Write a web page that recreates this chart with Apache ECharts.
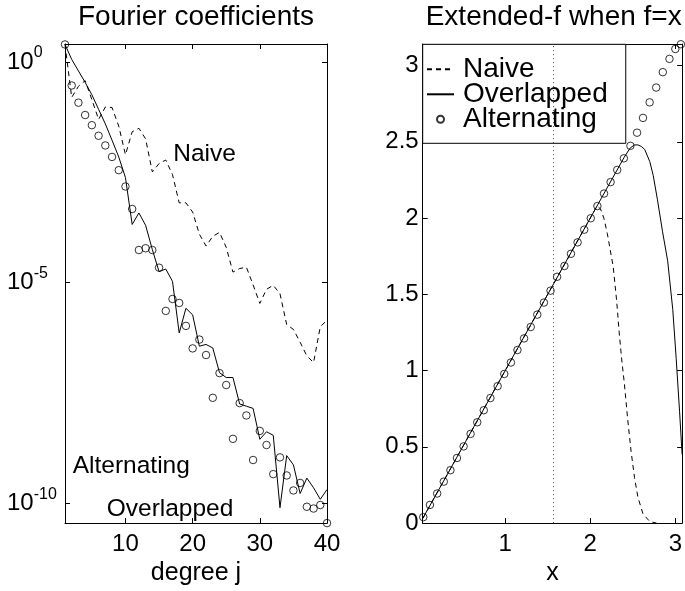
<!DOCTYPE html>
<html><head><meta charset="utf-8">
<script src="https://cdn.jsdelivr.net/npm/echarts@6/dist/echarts.min.js"></script>
<style>html,body{margin:0;padding:0;background:#fff}#c{width:685px;height:591px}</style>
</head><body><div id="c"></div>
<script>
// ---------- Left panel: Fourier coefficients (log10 of |coefficient|)
const degrees = [1,2,3,4,5,6,7,8,9,10,11,12,13,14,15,16,17,18,19,20,21,22,23,24,25,26,27,28,29,30,31,32,33,34,35,36,37,38,39,40];
const naiveExp = [0.40,-0.80,-0.55,-0.42,-0.85,-1.30,-1.02,-1.03,-1.45,-2.10,-1.58,-1.50,-1.74,-2.49,-2.30,-2.22,-2.55,-3.19,-3.19,-3.40,-3.90,-4.17,-3.95,-3.86,-4.20,-4.76,-4.68,-4.65,-5.05,-5.47,-5.15,-5.06,-5.25,-5.95,-6.06,-6.35,-6.66,-6.81,-6.00,-5.85];
const overlappedExp = [0.40,0.06,-0.20,-0.46,-0.74,-1.07,-1.40,-1.77,-2.15,-2.62,-3.68,-3.42,-3.70,-4.25,-4.75,-4.69,-4.97,-6.14,-5.58,-5.73,-6.44,-6.40,-6.48,-7.04,-7.15,-7.15,-7.75,-7.80,-7.85,-8.55,-8.38,-8.46,-10.10,-8.92,-9.13,-9.78,-9.43,-9.65,-9.91,-9.69];
const alternatingExp = [0.40,-0.53,-0.92,-1.20,-1.43,-1.67,-1.89,-2.15,-2.45,-2.82,-3.33,-4.26,-4.22,-4.26,-4.66,-5.64,-5.37,-5.46,-5.98,-6.49,-6.29,-6.64,-7.61,-7.05,-7.32,-8.54,-7.73,-8.01,-9.02,-8.36,-8.68,-9.34,-8.96,-9.37,-9.71,-9.54,-10.08,-10.12,-10.04,-10.45];
const leftXTicks = [10,20,30,40];
const leftYTicks = [1e-10,1e-5,1];

// ---------- Right panel: Extended-f when f=x
const altX = [0.037,0.115,0.200,0.278,0.356,0.433,0.511,0.593,0.671,0.748,0.826,0.911,0.989,1.067,1.144,1.222,1.300,1.377,1.455,1.533,1.610,1.696,1.773,1.851,1.929,2.006,2.084,2.162,2.239,2.317,2.395,2.472,2.550,2.620,2.698,2.775,2.853,2.931,3.000,3.065];
const altY = [0.039,0.119,0.194,0.272,0.347,0.427,0.503,0.585,0.661,0.740,0.820,0.898,0.978,1.053,1.135,1.211,1.286,1.367,1.446,1.524,1.615,1.686,1.766,1.841,1.924,1.999,2.079,2.161,2.236,2.316,2.392,2.474,2.560,2.657,2.759,2.856,2.957,3.044,3.109,3.140];
const overX = [0.03,2.40,2.47,2.52,2.56,2.60,2.64,2.70,2.74,2.79,2.85,2.91,2.97,3.01,3.05,3.08];
const overY = [0.03,2.40,2.46,2.48,2.48,2.47,2.45,2.37,2.28,2.12,1.91,1.72,1.40,1.08,0.73,0.45];
const naiveX = [0.03,2.08,2.12,2.16,2.20,2.27,2.31,2.34,2.37,2.40,2.44,2.48,2.52,2.56,2.62,2.70,2.78];
const naiveY = [0.03,2.08,2.06,2.00,1.90,1.68,1.46,1.25,1.07,0.92,0.68,0.47,0.30,0.17,0.06,0.01,0.00];
const rightXTicks = [1,2,3];
const rightYTicks = [0,0.5,1,1.5,2,2.5,3];
const dottedX = 1.5708;

const FONT = '"Liberation Sans", Arial, Helvetica, sans-serif';
const chart = echarts.init(document.getElementById('c'), null, {renderer:'canvas'});

const logPts = (exps) => exps.map((e,i) => [degrees[i], Math.pow(10, e)]);
const xyPts = (xs, ys) => xs.map((x,i) => [x, ys[i]]);

const black = '#000';
const tickStyle = (vals) => ({show:true, inside:true, length:5, customValues: vals, lineStyle:{color:black, width:1}});
const lineAx = {show:true, onZero:false, lineStyle:{color:black, width:1}};
const LMIN = Math.pow(10,-10.45), LMAX = Math.pow(10,0.41);
const noDot = {color:'rgba(0,0,0,0)', borderColor:'rgba(0,0,0,0)', borderWidth:0};

const option = {
  animation:false,
  backgroundColor:'#fff',
  grid:[
    {left:65, top:44, width:262, height:485},
    {left:422.7, top:44, width:262, height:485}
  ],
  xAxis:[
    {type:'value', gridIndex:0, min:1, max:40, position:'bottom', axisLine:lineAx,
     axisTick:tickStyle(leftXTicks), splitLine:{show:false},
     axisLabel:{show:true, customValues:leftXTicks, margin:9, fontSize:24, fontFamily:FONT, color:black},
     name:'degree j', nameLocation:'middle', nameGap:34, nameTextStyle:{fontSize:25, fontFamily:FONT, color:black}},
    {type:'value', gridIndex:0, min:1, max:40, position:'top', axisLine:lineAx,
     axisTick:tickStyle(leftXTicks), splitLine:{show:false}, axisLabel:{show:false}},
    {type:'value', gridIndex:1, min:0.03, max:3.08, position:'bottom', axisLine:lineAx,
     axisTick:tickStyle(rightXTicks), splitLine:{show:false},
     axisLabel:{show:true, customValues:rightXTicks, margin:9, fontSize:24, fontFamily:FONT, color:black},
     name:'x', nameLocation:'middle', nameGap:34, nameTextStyle:{fontSize:25, fontFamily:FONT, color:black}},
    {type:'value', gridIndex:1, min:0.03, max:3.08, position:'top', axisLine:lineAx,
     axisTick:tickStyle(rightXTicks), splitLine:{show:false}, axisLabel:{show:false}}
  ],
  yAxis:[
    {type:'log', logBase:10, gridIndex:0, min:LMIN, max:LMAX, position:'left', axisLine:lineAx,
     axisTick:tickStyle(leftYTicks), splitLine:{show:false}, minorTick:{show:false},
     axisLabel:{show:true, customValues:leftYTicks, align:'left', margin:58,
       formatter:(v)=>'{b|10}{s|'+Math.round(Math.log10(v))+'}',
       rich:{b:{fontSize:24, fontFamily:FONT, color:black, lineHeight:34},
             s:{fontSize:16, fontFamily:FONT, color:black, lineHeight:16, verticalAlign:'top'}}}},
    {type:'log', logBase:10, gridIndex:0, min:LMIN, max:LMAX, position:'right', axisLine:lineAx,
     axisTick:tickStyle(leftYTicks), splitLine:{show:false}, minorTick:{show:false}, axisLabel:{show:false}},
    {type:'value', gridIndex:1, min:0, max:3.1416, position:'left', axisLine:lineAx,
     axisTick:tickStyle(rightYTicks), splitLine:{show:false},
     axisLabel:{show:true, customValues:rightYTicks, margin:4, fontSize:24, fontFamily:FONT, color:black}},
    {type:'value', gridIndex:1, min:0, max:3.1416, position:'right', axisLine:lineAx,
     axisTick:tickStyle(rightYTicks), splitLine:{show:false}, axisLabel:{show:false}}
  ],
  legend:{
    orient:'vertical', left:422.7, top:44.3,
    data:[{name:'Naive', itemStyle:noDot},{name:'Overlapped', itemStyle:noDot},{name:'Alternating'}],
    itemWidth:27, itemHeight:7, itemGap:-3,
    padding:[11,18,10,3.3],
    backgroundColor:'#fff', borderColor:black, borderWidth:1, borderRadius:0,
    selectedMode:false,
    textStyle:{fontSize:28, fontFamily:FONT, color:black, padding:[0,0,0,4]}
  },
  graphic:[
    {type:'text', x:196, y:17, style:{text:'Fourier coefficients', fontSize:28, fontFamily:FONT, fill:black, align:'center', verticalAlign:'middle'}},
    {type:'text', x:553.7, y:17, style:{text:'Extended-f when f=x', fontSize:28, fontFamily:FONT, fill:black, align:'center', verticalAlign:'middle'}},
    {type:'text', x:173.3, y:154, style:{text:'Naive', fontSize:24.5, fontFamily:FONT, fill:black, align:'left', verticalAlign:'middle'}},
    {type:'text', x:72.7, y:466, style:{text:'Alternating', fontSize:24.5, fontFamily:FONT, fill:black, align:'left', verticalAlign:'middle'}},
    {type:'text', x:106.7, y:509, style:{text:'Overlapped', fontSize:24.5, fontFamily:FONT, fill:black, align:'left', verticalAlign:'middle'}}
  ],
  series:[
    {name:'Naive', type:'line', xAxisIndex:0, yAxisIndex:0, data:logPts(naiveExp), symbol:'none',
     lineStyle:{color:black, width:1, type:[5,4]}, itemStyle:{color:black}},
    {name:'Overlapped', type:'line', xAxisIndex:0, yAxisIndex:0, data:logPts(overlappedExp), symbol:'none',
     lineStyle:{color:black, width:1}, itemStyle:{color:black}},
    {name:'Alternating', type:'scatter', xAxisIndex:0, yAxisIndex:0, data:logPts(alternatingExp), symbol:'circle', symbolSize:7.5,
     itemStyle:{color:'rgba(0,0,0,0)', borderColor:black, borderWidth:1}},
    {name:'Naive', type:'line', xAxisIndex:2, yAxisIndex:2, data:xyPts(naiveX,naiveY), symbol:'none',
     lineStyle:{color:black, width:1, type:[5,4]}, itemStyle:{color:black}},
    {name:'Overlapped', type:'line', xAxisIndex:2, yAxisIndex:2, data:xyPts(overX,overY), symbol:'none',
     lineStyle:{color:black, width:1}, itemStyle:{color:black},
     markLine:{silent:true, symbol:['none','none'], label:{show:false}, lineStyle:{type:[1,3], color:'#444', width:1},
       data:[{xAxis:dottedX}]}},
    {name:'Alternating', type:'scatter', xAxisIndex:2, yAxisIndex:2, data:xyPts(altX,altY), symbol:'circle', symbolSize:7.5,
     itemStyle:{color:'rgba(0,0,0,0)', borderColor:black, borderWidth:1}}
  ]
};
chart.setOption(option);
</script></body></html>
